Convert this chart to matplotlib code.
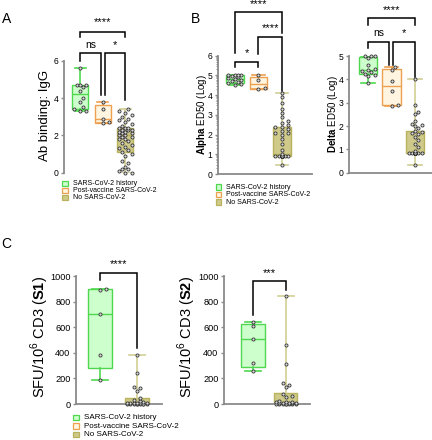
import numpy as np
import matplotlib
matplotlib.use("Agg")
import matplotlib.pyplot as plt
from matplotlib.patches import Rectangle

plt.rcParams['font.family'] = ['Liberation Sans', 'DejaVu Sans']
plt.rcParams['mathtext.fontset'] = 'custom'
plt.rcParams['mathtext.rm'] = 'Liberation Sans'
plt.rcParams['mathtext.bf'] = 'Liberation Sans:bold'

# ---- data ----
groups = ['SARS-CoV-2 history', 'Post-vaccine SARS-CoV-2', 'No SARS-CoV-2']

igg_hist = [3.3, 3.3, 3.4, 3.5, 3.8, 4.0, 4.4, 4.6, 4.7, 4.7, 4.7, 5.6]
igg_vacc = [2.65, 2.7, 2.9, 3.4, 3.8]
igg_none = [0.0, 0.0, 0.1, 0.2, 0.2, 0.3, 0.5, 0.6, 0.9, 1.0,
            1.1, 1.2, 1.3, 1.4, 1.5, 1.6, 1.7, 1.8, 1.8, 1.9, 1.9,
            2.0, 2.0, 2.1, 2.1, 2.2, 2.2, 2.3, 2.3, 2.3, 2.4, 2.4, 2.4,
            2.5, 2.6, 2.7, 2.8, 2.9, 3.0, 3.1, 3.2, 3.3, 3.4]

alpha_hist = [4.5, 4.55, 4.6, 4.65, 4.7, 4.75, 4.8, 4.85, 4.9, 4.95, 5.0, 5.0, 5.0, 5.0]
alpha_vacc = [4.3, 4.35, 4.75, 5.0]
alpha_none = [0.45] + [0.9] * 18 + [1.0, 1.2, 1.5, 1.8, 2.0, 2.1, 2.1, 2.2, 2.3, 2.4,
                                    2.4, 2.5, 2.6, 2.7, 2.9, 3.1, 3.3, 3.6, 3.9, 4.1]

delta_hist = [3.85, 4.15, 4.2, 4.25, 4.3, 4.35, 4.4, 4.45, 4.6, 4.9, 5.0, 5.0, 5.0]
delta_vacc = [2.85, 2.9, 3.5, 3.95, 4.4, 4.55]
delta_none = [0.35] + [0.85] * 20 + [0.95, 1.1, 1.25, 1.4, 1.55, 1.65, 1.7, 1.75, 1.8, 1.9,
                                     2.0, 2.05, 2.1, 2.2, 2.5, 2.6, 2.9, 4.0]

s1_hist = [185, 385, 700, 890, 900]
s1_none = [0, 0, 0, 1, 1, 2, 2, 3, 3, 5, 5, 5, 8, 10, 10, 15, 20, 35, 50, 100, 125, 130, 240, 380]

s2_hist = [255, 320, 505, 610, 640]
s2_none = [0, 0, 0, 1, 1, 2, 2, 3, 4, 5, 6, 8, 10, 12, 15, 18, 20, 55, 60, 75, 130, 150, 165, 310, 460, 845]

face = ['#ccffcc', '#fff5e0', '#cfc98a']
edge = ['#4fd84f', '#eda04f', '#b9b35e']
whis = ['#4fd84f', '#eda04f', '#d2ce94']

W, H = 432, 440
fig = plt.figure(figsize=(W / 100, H / 100), dpi=100)


def px_axes(x0, x1, ytop, ybot):
    return fig.add_axes([x0 / W, 1 - ybot / H, (x1 - x0) / W, (ybot - ytop) / H])


def style(ax, ylim, yticks, bottom=True, fs=6.2):
    ax.set_ylim(*ylim)
    ax.set_yticks(yticks)
    for s in ['top', 'right']:
        ax.spines[s].set_visible(False)
    ax.spines['bottom'].set_visible(bottom)
    for s in ['left', 'bottom']:
        ax.spines[s].set_color('#8a8a8a')
        ax.spines[s].set_linewidth(1.3)
    ax.set_xticks([])
    ax.tick_params(axis='y', colors='#8a8a8a', labelcolor='black', length=2.5,
                   width=1, labelsize=fs, pad=1.5)
    ax.patch.set_alpha(0)


def swarm(ax, pos, vals, halfw, d=3.8):
    t = ax.transData
    pxu = t.transform((1, 0))[0] - t.transform((0, 0))[0]
    ys = [t.transform((pos, v))[1] for v in vals]
    lim = halfw * pxu
    cands = [0.0]
    k = 1
    while k * d * 0.85 <= lim:
        cands += [k * d * 0.85, -k * d * 0.85]
        k += 1
    placed, offs = [], []
    for y in ys:
        best, bestd = 0.0, -1
        for c in cands:
            md = min([np.hypot(c - px, y - py) for px, py in placed] + [99])
            if md >= d:
                best = c
                break
            if md > bestd:
                best, bestd = c, md
        placed.append((best, y))
        offs.append(best)
    return [pos + o / pxu for o in offs]


def boxes(ax, datasets, positions, colors, width):
    for vals, p, ci in zip(datasets, positions, colors):
        q1, med, q3 = np.percentile(vals, [25, 50, 75], method='weibull')
        st = dict(med=med, q1=q1, q3=q3, whislo=min(vals), whishi=max(vals), fliers=[])
        ax.bxp([st], positions=[p], widths=width, patch_artist=True, showfliers=False,
               capwidths=width * 0.7, manage_ticks=False,
               boxprops=dict(facecolor=face[ci], edgecolor=edge[ci], linewidth=1),
               medianprops=dict(color=edge[ci], linewidth=1),
               whiskerprops=dict(color=whis[ci], linewidth=1.2),
               capprops=dict(color=whis[ci], linewidth=1.2))
        xs = swarm(ax, p, vals, width / 2 * 0.95)
        ax.scatter(xs, vals, s=5, facecolor='#d8d8d8', edgecolor='#333333',
                   linewidth=0.6, zorder=4, clip_on=False)


def bracket(ax, x1, x2, top, l1, l2, txt, ty, fs=8):
    ax.plot([x1, x1, x2, x2], [l1, top, top, l2], color='black', lw=1.1,
            clip_on=False, solid_joinstyle='miter')
    ax.text((x1 + x2) / 2, ty, txt, ha='center', va='center', fontsize=fs)


# ---- panel A ----
axA = px_axes(64, 141, 60.7, 172.7)
axA.set_xlim(0.29, 3.7)
style(axA, (0, 6), [0, 2, 4, 6], bottom=False)
boxes(axA, [igg_hist, igg_vacc, igg_none], [1, 2, 3], [0, 1, 2], 0.7)
bracket(axA, 1, 3, 7.54, 7.27, 7.27, '****', 8.05)
bracket(axA, 1, 1.94, 6.43, 6.0, 4.16, 'ns', 6.85, fs=7.5)
bracket(axA, 2.09, 3, 6.43, 4.16, 3.9, '*', 6.85)

# ---- panel B alpha ----
axB1 = px_axes(218, 312, 55.7, 174)
axB1.set_xlim(0.28, 4.28)
style(axB1, (0, 6), range(7))
axB1.set_yticks([n + np.log10(k) for n in range(6) for k in range(2, 10)], minor=True)
axB1.tick_params(axis='y', which='minor', length=1.5, width=0.7, colors='#8a8a8a')
boxes(axB1, [alpha_hist, alpha_vacc, alpha_none], [1, 2, 3], [0, 1, 2], 0.75)
bracket(axB1, 1, 3, 8.24, 6.14, 7.16, '****', 8.6)
bracket(axB1, 2, 3, 6.95, 6.09, 4.23, '****', 7.42)
bracket(axB1, 1, 2, 5.7, 5.45, 5.45, '*', 6.15)

# ---- panel B delta ----
axB2 = px_axes(349, 432, 56, 172.7)
axB2.set_xlim(0.19, 3.72)
style(axB2, (0, 5), range(6))
boxes(axB2, [delta_hist, delta_vacc, delta_none], [1, 2, 3], [0, 1, 2], 0.8)
bracket(axB2, 1, 3, 6.62, 6.33, 6.33, '****', 6.98)
bracket(axB2, 1, 1.9, 5.61, 5.34, 4.61, 'ns', 6.0, fs=7.5)
bracket(axB2, 2.05, 3, 5.61, 4.61, 4.11, '*', 6.0)

# ---- panel C ----
axC1 = px_axes(76, 162, 276, 404)
axC1.set_xlim(0.35, 2.68)
style(axC1, (0, 1000), range(0, 1001, 200), fs=6.6)
boxes(axC1, [s1_hist, s1_none], [1, 2], [0, 2], 0.65)
bracket(axC1, 1, 2, 1026, 970, 440, '****', 1090)

axC2 = px_axes(224, 310, 276, 404)
axC2.set_xlim(0.12, 2.73)
style(axC2, (0, 1000), range(0, 1001, 200), fs=6.6)
boxes(axC2, [s2_hist, s2_none], [1, 2], [0, 2], 0.7)
bracket(axC2, 1, 2, 960, 695, 890, '***', 1025)

# ---- y labels ----
def ylab(x, y, s, fs):
    fig.text(x / W, 1 - y / H, s, rotation=90, ha='center', va='center', fontsize=fs)

ylab(45, 115, 'Ab binding: IgG', 9.5)
ylab(202, 114, r'$\mathbf{Alpha}$ ED50 (Log)', 7.0)
ylab(333, 114, r'$\mathbf{Delta}$ ED50 (Log)', 7.0)
ylab(40, 337, r'SFU/10$^{6}$ CD3 ($\mathbf{S1}$)', 10.5)
ylab(187, 337, r'SFU/10$^{6}$ CD3 ($\mathbf{S2}$)', 10.5)

# ---- panel letters ----
for x, y, s in [(6.5, 19, 'A'), (195, 19, 'B'), (6, 244, 'C')]:
    fig.text(x / W, 1 - y / H, s, ha='center', va='center', fontsize=10)


# ---- legends ----
def legend(x, y0, dy, tx, fs, sq=5.5):
    for i, g in enumerate(groups):
        yc = y0 + i * dy
        fig.patches.append(Rectangle(((x) / W, 1 - (yc + sq / 2) / H), sq / W, sq / H,
                                     transform=fig.transFigure, facecolor=face[i],
                                     edgecolor=edge[i], linewidth=0.9))
        fig.text(tx / W, 1 - yc / H, g, ha='left', va='center', fontsize=fs)

legend(62, 183.5, 7, 73, 5.0)
legend(215.5, 187, 7.5, 226, 5.1)
legend(73, 417.5, 8.5, 83.5, 5.8)

fig.savefig('out.png', dpi=100)
